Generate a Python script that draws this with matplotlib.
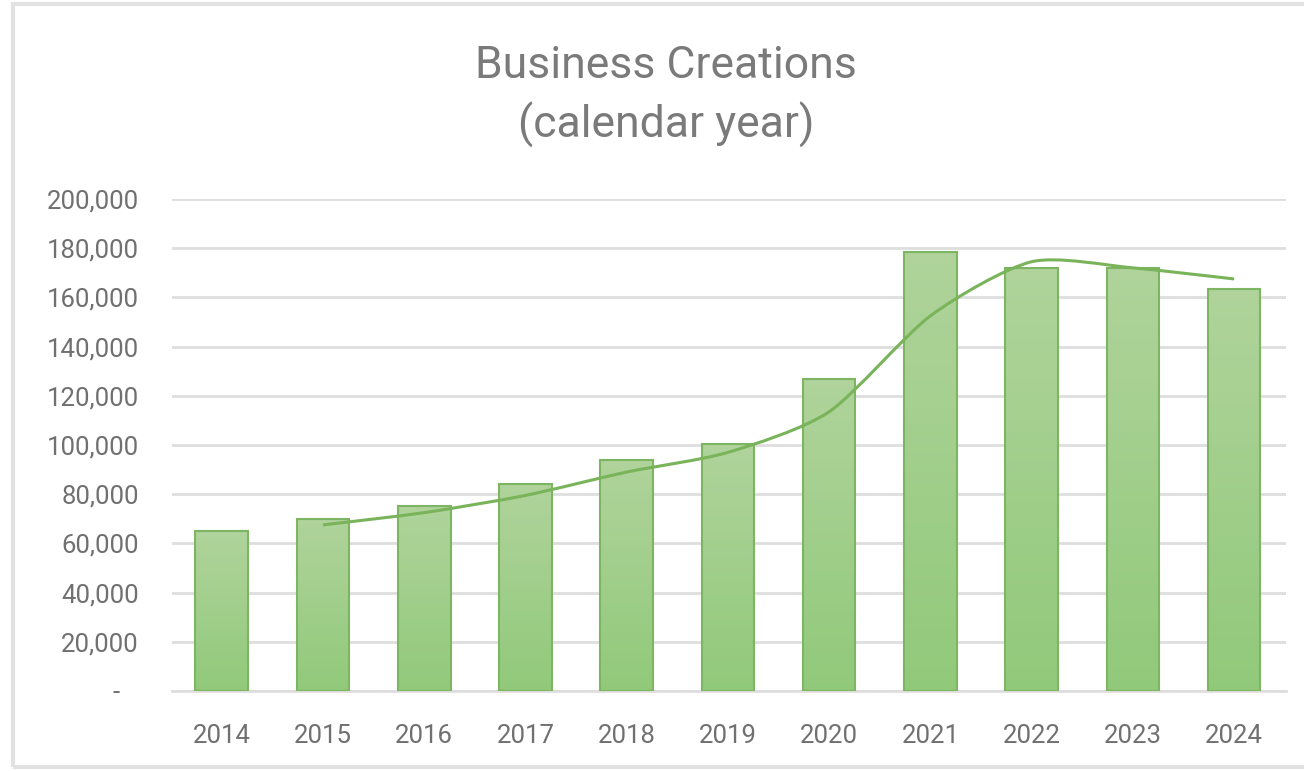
import numpy as np
import matplotlib
matplotlib.use("Agg")
import matplotlib.pyplot as plt
from matplotlib.path import Path
from matplotlib.patches import PathPatch, Rectangle
from matplotlib.ticker import FuncFormatter

years = ["2014", "2015", "2016", "2017", "2018", "2019",
         "2020", "2021", "2022", "2023", "2024"]
creations = [65000, 70000, 75000, 84000, 94000, 100500,
             127000, 178500, 172000, 172000, 163500]
# two-year moving average trend, starts at 2015
trend_years = ["2015", "2016", "2017", "2018", "2019",
               "2020", "2021", "2022", "2023", "2024"]
trend = [67500, 72500, 79500, 89000, 97000,
         113500, 152500, 174500, 172000, 167500]

plt.rcParams['font.family'] = ['Roboto', 'DejaVu Sans']

fig = plt.figure(figsize=(13.04, 7.71), dpi=100)
ax = fig.add_axes([0.132, 0.1038, 0.854, 0.6381])

x = np.arange(len(years))
bars = ax.bar(x, creations, width=0.52, color='none',
              edgecolor='#7db562', linewidth=1.5, zorder=3)

# vertical gradient inside each bar
grad = np.linspace(0, 1, 256).reshape(-1, 1)
top = np.array([0.69, 0.83, 0.61])
bot = np.array([0.57, 0.79, 0.48])
img = (bot + (top - bot) * grad[:, :, None].repeat(1, axis=1))
img = np.repeat(img, 2, axis=1)
for b in bars:
    x0, y0 = b.get_x(), b.get_y()
    w, h = b.get_width(), b.get_height()
    im = ax.imshow(img, extent=(x0, x0 + w, y0, y0 + h), origin='lower',
                   aspect='auto', zorder=2, interpolation='bilinear')
    im.set_clip_path(b)

# smoothed trend line (Catmull-Rom converted to cubic Bezier)
tx = np.array([years.index(t) for t in trend_years], dtype=float)
ty = np.array(trend, dtype=float)
verts = [(tx[0], ty[0])]
codes = [Path.MOVETO]
n = len(tx)
for i in range(n - 1):
    p0 = np.array([tx[max(i - 1, 0)], ty[max(i - 1, 0)]])
    p1 = np.array([tx[i], ty[i]])
    p2 = np.array([tx[i + 1], ty[i + 1]])
    p3 = np.array([tx[min(i + 2, n - 1)], ty[min(i + 2, n - 1)]])
    c1 = p1 + (p2 - p0) / 8.0
    c2 = p2 - (p3 - p1) / 8.0
    verts += [tuple(c1), tuple(c2), tuple(p2)]
    codes += [Path.CURVE4] * 3
ax.add_patch(PathPatch(Path(verts, codes), facecolor='none',
                       edgecolor='#79b35a', linewidth=2.2, zorder=4))

ax.set_xlim(-0.49, 10.51)
ax.set_ylim(0, 200000)
ax.set_yticks(np.arange(0, 200001, 20000))
ax.yaxis.set_major_formatter(FuncFormatter(
    lambda v, p: '-   ' if v == 0 else f'{int(v):,}'))
ax.set_xticks(x)
ax.set_xticklabels(years)

ax.grid(axis='y', color='#dedede', linewidth=2, zorder=0)
ax.set_axisbelow(True)
for s in ['top', 'right', 'left']:
    ax.spines[s].set_visible(False)
ax.spines['bottom'].set_color('#dedede')
ax.spines['bottom'].set_linewidth(2)
ax.tick_params(length=0, labelsize=18.5, colors='#707070')
ax.tick_params(axis='y', pad=24)
ax.tick_params(axis='x', pad=24)

fig.text(0.511, 0.875, 'Business Creations\n(calendar year)', ha='center',
         va='center', fontsize=32, color='#7a7a7a', linespacing=1.4)

# light frame around the chart
fig.patches.append(Rectangle((13 / 1304, 4 / 771), 1.0, 763 / 771,
                             transform=fig.transFigure, fill=False,
                             edgecolor='#e2e2e2', linewidth=3))

fig.savefig('out.png', dpi=100)
